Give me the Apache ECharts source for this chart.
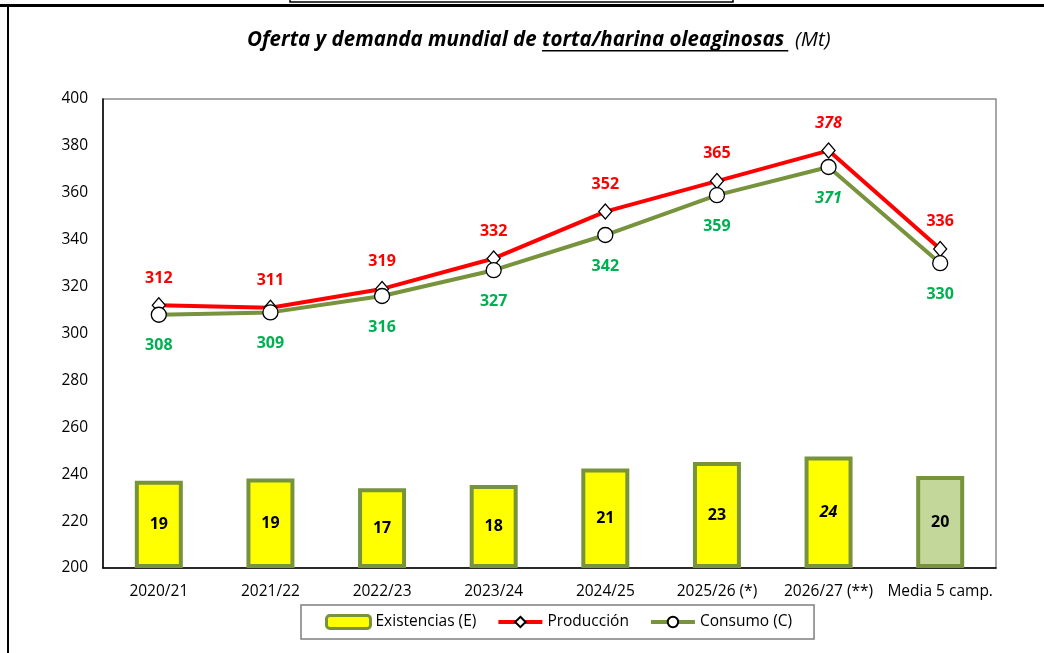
<!DOCTYPE html>
<html>
<head>
<meta charset="utf-8">
<script src="https://cdn.jsdelivr.net/npm/echarts@6/dist/echarts.min.js"></script>
<style>
  html, body { margin: 0; padding: 0; background: #fff; }
  #chart { width: 1044px; height: 653px; }
</style>
</head>
<body>
<div id="chart"></div>
<script>
const categories = ["2020/21", "2021/22", "2022/23", "2023/24", "2024/25", "2025/26 (*)", "2026/27 (**)", "Media 5 camp."];
const existencias = [18.6, 19.1, 17.0, 17.7, 21.2, 22.6, 23.8, 19.6];
const produccion = [312, 311, 319, 332, 352, 365, 378, 336];
const consumo = [308, 309, 316, 327, 342, 359, 371, 330];
const yTicks = [200, 400, 20];

const titleParts = ["Oferta y demanda mundial de ", "torta/harina oleaginosas ", " (Mt)"];

const FONT = "'Open Sans', 'Noto Sans', sans-serif";
const olive = "#77933C";
const italicIdx = 6;
const TITLE_SIZE = 20.5;
const titleLeft = 247;

// measure title pieces so the underline sits under the middle part
const ctx = document.createElement("canvas").getContext("2d");
ctx.font = "italic bold " + TITLE_SIZE + "px " + FONT;
const w0 = ctx.measureText(titleParts[0]).width;
const w1t = ctx.measureText(titleParts[1].trim()).width;

const chart = echarts.init(document.getElementById("chart"));

const barData = existencias.map((v, i) => ({
  value: v,
  itemStyle: i === categories.length - 1 ? { color: "#C4D79B" } : undefined,
  label: i === italicIdx ? { fontStyle: "italic" } : undefined
}));
const prodData = produccion.map((v, i) => ({
  value: v,
  label: i === italicIdx ? { fontStyle: "italic" } : undefined
}));
const consData = consumo.map((v, i) => ({
  value: v,
  label: i === italicIdx ? { fontStyle: "italic" } : undefined
}));

chart.setOption({
  animation: false,
  textStyle: { fontFamily: FONT },
  title: {
    text: "{b|" + titleParts[0] + "}{b|" + titleParts[1] + "}{n|" + titleParts[2] + "}",
    left: titleLeft,
    top: 30,
    padding: 0,
    textStyle: {
      rich: {
        b: { fontFamily: FONT, fontSize: TITLE_SIZE, fontWeight: "bold", fontStyle: "italic", color: "#000" },
        n: { fontFamily: FONT, fontSize: TITLE_SIZE, fontWeight: "normal", fontStyle: "italic", color: "#000" }
      }
    }
  },
  graphic: [
    { type: "rect", shape: { x: 0, y: 4, width: 1044, height: 3 }, style: { fill: "#000" } },
    { type: "rect", shape: { x: 7, y: 4, width: 2, height: 649 }, style: { fill: "#000" } },
    { type: "rect", shape: { x: 290, y: -5, width: 443, height: 7 }, style: { fill: "none", stroke: "#000", lineWidth: 1.5 } },
    { type: "rect", shape: { x: titleLeft + w0, y: 50, width: w1t + 4, height: 1.6 }, style: { fill: "#000" } }
  ],
  legend: {
    left: 301,
    top: 605,
    itemGap: 20,
    itemWidth: 44,
    itemHeight: 13,
    padding: [9, 22, 9, 24],
    borderColor: "#7f7f7f",
    borderWidth: 1.5,
    textStyle: { fontSize: 15.5, color: "#000", fontFamily: FONT },
    data: [
      { name: "Existencias (E)", itemStyle: { color: "#FFFF00", borderColor: olive, borderWidth: 3 } },
      { name: "Producción", lineStyle: { width: 4 } },
      { name: "Consumo (C)", lineStyle: { width: 4 } }
    ]
  },
  grid: {
    left: 103,
    right: 48,
    top: 99,
    bottom: 85,
    show: true,
    borderColor: "#8c8c8c",
    borderWidth: 1.5
  },
  xAxis: {
    type: "category",
    data: categories,
    axisLine: { lineStyle: { color: "#000", width: 1.5 } },
    axisTick: { show: false },
    axisLabel: { color: "#000", fontSize: 15.5, margin: 16, interval: 0 }
  },
  yAxis: [
    {
      type: "value",
      min: yTicks[0],
      max: yTicks[1],
      interval: yTicks[2],
      axisLine: { show: true, lineStyle: { color: "#000", width: 1.5 } },
      axisTick: { show: false },
      splitLine: { show: false },
      axisLabel: { color: "#000", fontSize: 15.5, margin: 15 }
    },
    {
      type: "value",
      min: 0,
      max: 100,
      show: false,
      splitLine: { show: false }
    }
  ],
  series: [
    {
      name: "Existencias (E)",
      type: "bar",
      yAxisIndex: 1,
      barWidth: 48,
      data: barData,
      itemStyle: { color: "#FFFF00", borderColor: olive, borderWidth: 4 },
      label: {
        show: true,
        position: "inside",
        color: "#000",
        fontWeight: "bold",
        fontSize: 16,
        formatter: p => Math.round(p.value)
      }
    },
    {
      name: "Consumo (C)",
      type: "line",
      data: consData,
      z: 3,
      lineStyle: { color: olive, width: 4 },
      itemStyle: { color: "#fff", borderColor: "#000", borderWidth: 1.3 },
      symbol: "circle",
      symbolSize: 15,
      label: {
        show: true,
        position: "bottom",
        distance: 15,
        color: "#00B050",
        fontWeight: "bold",
        fontSize: 16
      }
    },
    {
      name: "Producción",
      type: "line",
      data: prodData,
      z: 2,
      lineStyle: { color: "#FF0000", width: 4 },
      itemStyle: { color: "#fff", borderColor: "#000", borderWidth: 1.3 },
      symbol: "diamond",
      symbolSize: [13, 15],
      label: {
        show: true,
        position: "top",
        distance: 11,
        color: "#FF0000",
        fontWeight: "bold",
        fontSize: 16
      }
    }
  ]
});
</script>
</body>
</html>
